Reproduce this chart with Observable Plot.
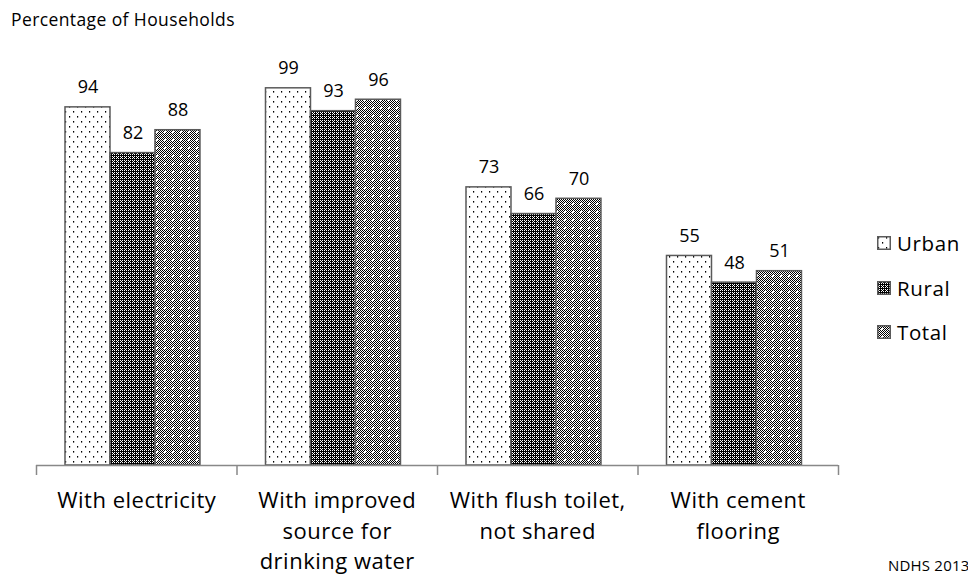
<!DOCTYPE html>
<html>
<head>
<meta charset="utf-8">
<script src="https://cdn.jsdelivr.net/npm/d3@7"></script>
<script src="https://cdn.jsdelivr.net/npm/@observablehq/plot@0.6"></script>
<style>
  html, body { margin: 0; padding: 0; background: #fff; overflow: hidden; }
  #wrap { position: relative; width: 968px; height: 577px; overflow: hidden; font-family: "Open Sans", "Liberation Sans", sans-serif; color: #000; }
  #chart { position: absolute; left: 0; top: 0; }
  #title { position: absolute; left: 11px; top: 7px; font-size: 17.5px; letter-spacing: 0.4px; white-space: nowrap; }
  #caption { position: absolute; left: 888px; top: 555px; font-size: 15px; letter-spacing: 0.2px; white-space: nowrap; }
  #legend { position: absolute; left: 877px; top: 221px; }
  .item { display: flex; align-items: center; height: 44.5px; font-size: 20.5px; letter-spacing: 0.6px; white-space: nowrap; }
  .item svg { margin-right: 6px; }
</style>
</head>
<body>
<svg width="0" height="0" style="position:absolute">
  <defs>
    <pattern id="pUrban" patternUnits="userSpaceOnUse" width="8" height="10">
      <rect width="8" height="10" fill="#fff"/>
      <rect x="1" y="1" width="1.2" height="1.6" fill="#000"/>
      <rect x="5" y="6" width="1.2" height="1.6" fill="#000"/>
    </pattern>
    <pattern id="pRural" patternUnits="userSpaceOnUse" width="4" height="4">
      <rect width="4" height="4" fill="#000"/>
      <rect x="0" y="0" width="1" height="1" fill="#fff"/>
      <rect x="2" y="0" width="1" height="1" fill="#fff"/>
      <rect x="0" y="2" width="1" height="1" fill="#fff"/>
      <rect x="2" y="2" width="1" height="1" fill="#fff"/>
      <rect x="1" y="1" width="1" height="1" fill="#fff"/>
    </pattern>
    <pattern id="pTotal" patternUnits="userSpaceOnUse" width="8" height="8">
      <rect width="8" height="8" fill="#fff"/>
      <rect x="0" y="0" width="1" height="1" fill="#000"/>
      <rect x="2" y="0" width="1" height="1" fill="#000"/>
      <rect x="4" y="0" width="1" height="1" fill="#000"/>
      <rect x="6" y="0" width="1" height="1" fill="#000"/>
      <rect x="1" y="1" width="1" height="1" fill="#000"/>
      <rect x="3" y="1" width="1" height="1" fill="#000"/>
      <rect x="5" y="1" width="1" height="1" fill="#000"/>
      <rect x="7" y="1" width="1" height="1" fill="#000"/>
      <rect x="0" y="2" width="1" height="1" fill="#000"/>
      <rect x="2" y="2" width="1" height="1" fill="#000"/>
      <rect x="4" y="2" width="1" height="1" fill="#000"/>
      <rect x="6" y="2" width="1" height="1" fill="#000"/>
      <rect x="1" y="3" width="1" height="1" fill="#000"/>
      <rect x="3" y="3" width="1" height="1" fill="#000"/>
      <rect x="7" y="3" width="1" height="1" fill="#000"/>
      <rect x="0" y="4" width="1" height="1" fill="#000"/>
      <rect x="2" y="4" width="1" height="1" fill="#000"/>
      <rect x="6" y="4" width="1" height="1" fill="#000"/>
      <rect x="1" y="5" width="1" height="1" fill="#000"/>
      <rect x="3" y="5" width="1" height="1" fill="#000"/>
      <rect x="5" y="5" width="1" height="1" fill="#000"/>
      <rect x="7" y="5" width="1" height="1" fill="#000"/>
      <rect x="0" y="6" width="1" height="1" fill="#000"/>
      <rect x="2" y="6" width="1" height="1" fill="#000"/>
      <rect x="4" y="6" width="1" height="1" fill="#000"/>
      <rect x="6" y="6" width="1" height="1" fill="#000"/>
      <rect x="1" y="7" width="1" height="1" fill="#000"/>
      <rect x="3" y="7" width="1" height="1" fill="#000"/>
      <rect x="5" y="7" width="1" height="1" fill="#000"/>
      <rect x="7" y="7" width="1" height="1" fill="#000"/>
    </pattern>
  </defs>
</svg>
<div id="wrap">
  <div id="chart"></div>
  <div id="title">Percentage of Households</div>
  <div id="legend"></div>
  <div id="caption">NDHS 2013</div>
</div>
<script>
// ---- Data ----
const categories = ["With electricity", "With improved source for drinking water", "With flush toilet, not shared", "With cement flooring"];
const categoryLabels = ["With electricity", "With improved\nsource for\ndrinking water", "With flush toilet,\nnot shared", "With cement\nflooring"];
const seriesNames = ["Urban", "Rural", "Total"];
const urban = [94, 99, 73, 55];
const rural = [82, 93, 66, 48];
const total = [88, 96, 70, 51];
const categoryTicks = [0, 1, 2, 3, 4];

// ---- Layout (styling constants) ----
const patternIds = {Urban: "url(#pUrban)", Rural: "url(#pRural)", Total: "url(#pTotal)"};
const groupInset = 0.1446;   // fraction of a category band before the first bar
const barWidth = 0.2244;     // fraction of a category band per bar

const seriesValues = [urban, rural, total];
const rows = [];
categories.forEach((c, i) => {
  seriesNames.forEach((s, j) => {
    const x1 = i + groupInset + j * barWidth;
    rows.push({category: c, series: s, value: seriesValues[j][i], x1, x2: x1 + barWidth});
  });
});
const labelRows = categories.map((c, i) => ({category: c, label: categoryLabels[i], pos: i + 0.5}));

const chart = Plot.plot({
  width: 968,
  height: 577,
  marginLeft: 36,
  marginRight: 130,
  marginTop: 84,
  marginBottom: 112,
  style: {fontFamily: "'Open Sans', 'Liberation Sans', sans-serif", background: "transparent"},
  x: {domain: [0, 4], axis: null},
  y: {domain: [0, 100], axis: null},
  marks: [
    Plot.rectY(rows, {
      x1: "x1", x2: "x2", y1: 0, y2: "value",
      fill: d => patternIds[d.series],
      stroke: "#5a5a5a", strokeWidth: 1.5
    }),
    Plot.text(rows, {
      x: d => (d.x1 + d.x2) / 2, y: "value", text: d => String(d.value),
      lineAnchor: "bottom", dy: -14, fontSize: 18, fill: "#000"
    }),
    Plot.ruleY([0], {stroke: "#888", strokeWidth: 1.5}),
    Plot.axisX({ticks: categoryTicks, tickSize: 10, tickFormat: () => "", stroke: "#888", strokeWidth: 1.5}),
    Plot.text(labelRows, {
      x: "pos", y: 0, text: "label", lineAnchor: "top", dy: 21,
      fontSize: 22, lineHeight: 1.39, fill: "#000"
    })
  ]
});
document.getElementById("chart").appendChild(chart);
chart.querySelectorAll("text").forEach(t => {
  if (t.textContent.length > 3) t.setAttribute("letter-spacing", "0.5");
});

// Legend
const legend = document.getElementById("legend");
seriesNames.forEach(s => {
  const item = document.createElement("div");
  item.className = "item";
  item.innerHTML = `<svg width="14" height="14"><rect x="0.75" y="0.75" width="12.5" height="12.5" fill="${patternIds[s]}" stroke="#5a5a5a" stroke-width="1.5"/></svg><span>${s}</span>`;
  legend.appendChild(item);
});
</script>
</body>
</html>
